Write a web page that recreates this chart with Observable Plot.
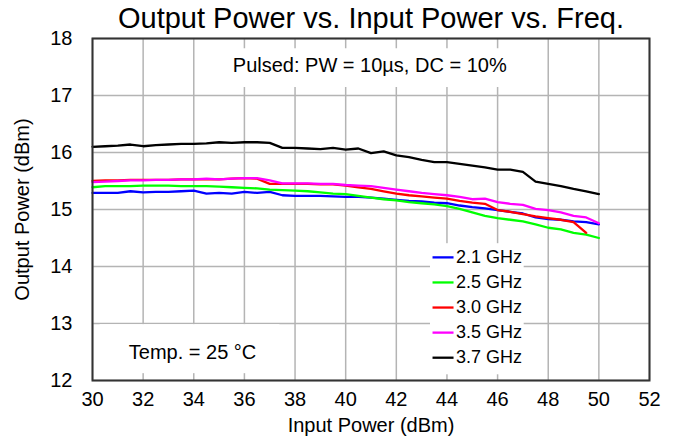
<!DOCTYPE html>
<html>
<head>
<meta charset="utf-8">
<script src="https://cdn.jsdelivr.net/npm/d3@7"></script>
<script src="https://cdn.jsdelivr.net/npm/@observablehq/plot@0.6"></script>
<style>
  html, body { margin: 0; padding: 0; background: #fff; }
  #chart svg { display: block; }
</style>
</head>
<body>
<div id="chart"></div>
<script>
// ---- data ----
const inputPower = [30,30.5,31,31.5,32,32.5,33,33.5,34,34.5,35,35.5,36,36.5,37,37.5,38,38.5,39,39.5,40,40.5,41,41.5,42,42.5,43,43.5,44,44.5,45,45.5,46,46.5,47,47.5,48,48.5,49,49.5,50];
const seriesNames = ["2.1 GHz", "2.5 GHz", "3.0 GHz", "3.5 GHz", "3.7 GHz"];
const seriesColors = ["#0000ff", "#00ff00", "#ff0000", "#ff00ff", "#000000"];
const out21 = [15.29,15.29,15.29,15.32,15.30,15.31,15.31,15.32,15.33,15.28,15.29,15.28,15.31,15.29,15.31,15.25,15.24,15.24,15.24,15.23,15.22,15.22,15.21,15.19,15.17,15.15,15.14,15.12,15.11,15.07,15.04,15.02,14.99,14.96,14.93,14.86,14.83,14.82,14.79,14.78,14.74];
const out25 = [15.39,15.41,15.41,15.41,15.42,15.42,15.42,15.41,15.41,15.41,15.40,15.39,15.38,15.37,15.35,15.34,15.33,15.32,15.30,15.28,15.27,15.24,15.21,15.18,15.16,15.13,15.11,15.09,15.06,15.01,14.95,14.89,14.85,14.82,14.79,14.74,14.68,14.65,14.59,14.56,14.50];
const out30 = [15.50,15.51,15.51,15.52,15.52,15.52,15.52,15.53,15.53,15.53,15.53,15.54,15.55,15.54,15.45,15.45,15.45,15.45,15.44,15.44,15.42,15.39,15.36,15.32,15.28,15.25,15.23,15.21,15.19,15.15,15.12,15.10,14.99,14.96,14.92,14.88,14.85,14.82,14.78,14.59];
const out35 = [15.48,15.49,15.50,15.51,15.51,15.52,15.52,15.53,15.53,15.54,15.53,15.54,15.55,15.55,15.51,15.46,15.46,15.46,15.45,15.45,15.43,15.42,15.41,15.38,15.35,15.32,15.29,15.27,15.25,15.22,15.18,15.19,15.13,15.10,15.08,15.01,14.99,14.95,14.89,14.86,14.76];
const out37 = [16.10,16.11,16.12,16.14,16.11,16.13,16.14,16.15,16.15,16.16,16.18,16.17,16.18,16.18,16.17,16.08,16.08,16.07,16.06,16.08,16.05,16.07,15.99,16.02,15.95,15.92,15.87,15.83,15.83,15.80,15.77,15.74,15.70,15.70,15.66,15.49,15.45,15.41,15.36,15.32,15.27];
const xTicks = [30,32,34,36,38,40,42,44,46,48,50,52];
const yTicks = [12,13,14,15,16,17,18];
const titleText = "Output Power vs. Input Power vs. Freq.";
const xLabel = "Input Power (dBm)";
const yLabel = "Output Power (dBm)";
const noteTop = "Pulsed: PW = 10µs, DC = 10%";
const noteTemp = "Temp. = 25 °C";

// ---- build table ----
const allSeries = [out21, out25, out30, out35, out37];
const table = [];
allSeries.forEach((vals, si) => {
  vals.forEach((v, i) => table.push({series: seriesNames[si], pin: inputPower[i], pout: v}));
});

// annotation placement (data units)
const topBox = {x1: 34.1, x2: 47.9, y1: 17.14, y2: 17.82};
const topNote = {x: 40.95, y: 17.53};
const tempBox = {x1: 30.3, x2: 37.4, y1: 12.12, y2: 12.98};
const tempNote = {x: 33.95, y: 12.49};
const legBox = {x1: 43.35, x2: 47.05, y1: 12.1, y2: 14.4};
const legend = seriesNames.map((s, i) => ({
  series: s, y: 14.16 - i * 0.44, xa: 43.43, xb: 44.26, xt: 44.36
}));

const font = "'Liberation Sans', Arial, Helvetica, sans-serif";

const chart = Plot.plot({
  width: 677,
  height: 442,
  marginLeft: 92,
  marginRight: 28,
  marginTop: 38,
  marginBottom: 62,
  style: {fontFamily: font, background: "#fff", color: "#000"},
  x: {domain: [30, 52]},
  y: {domain: [12, 18]},
  color: {domain: seriesNames, range: seriesColors},
  marks: [
    Plot.gridX({ticks: xTicks, stroke: "#b4b4b4", strokeOpacity: 1, strokeWidth: 1.5}),
    Plot.gridY({ticks: yTicks, stroke: "#b4b4b4", strokeOpacity: 1, strokeWidth: 1.5}),
    Plot.rect([topBox, tempBox, legBox], {x1: "x1", x2: "x2", y1: "y1", y2: "y2", fill: "#fff"}),
    Plot.line(table, {x: "pin", y: "pout", z: "series", stroke: "series", strokeWidth: 2.3, strokeLinejoin: "round"}),
    Plot.frame({stroke: "#333", strokeWidth: 2}),
    Plot.axisX({ticks: xTicks, tickSize: 0, tickPadding: 11, fontSize: 20, label: null, tickFormat: d => String(d)}),
    Plot.axisY({ticks: yTicks, tickSize: 0, tickPadding: 20, fontSize: 20, label: null, tickFormat: d => String(d)}),
    Plot.text([titleText], {text: d => d, frameAnchor: "top", dy: -20, lineAnchor: "middle", textAnchor: "middle", fontSize: 29, fill: "#000"}),
    Plot.text([xLabel], {text: d => d, frameAnchor: "bottom", dy: 45, lineAnchor: "middle", textAnchor: "middle", fontSize: 20, fill: "#000"}),
    Plot.text([yLabel], {text: d => d, frameAnchor: "left", dx: -70, rotate: -90, lineAnchor: "middle", textAnchor: "middle", fontSize: 20, fill: "#000"}),
    Plot.text([noteTop], {text: d => d, x: () => topNote.x, y: () => topNote.y, fontSize: 20, fill: "#000"}),
    Plot.text([noteTemp], {text: d => d, x: () => tempNote.x, y: () => tempNote.y, fontSize: 20, fill: "#000"}),
    Plot.link(legend, {x1: "xa", x2: "xb", y1: "y", y2: "y", stroke: "series", strokeWidth: 2.3}),
    Plot.text(legend, {x: "xt", y: "y", text: "series", textAnchor: "start", fontSize: 18, fill: "#000"})
  ]
});
document.getElementById("chart").appendChild(chart);
</script>
</body>
</html>
